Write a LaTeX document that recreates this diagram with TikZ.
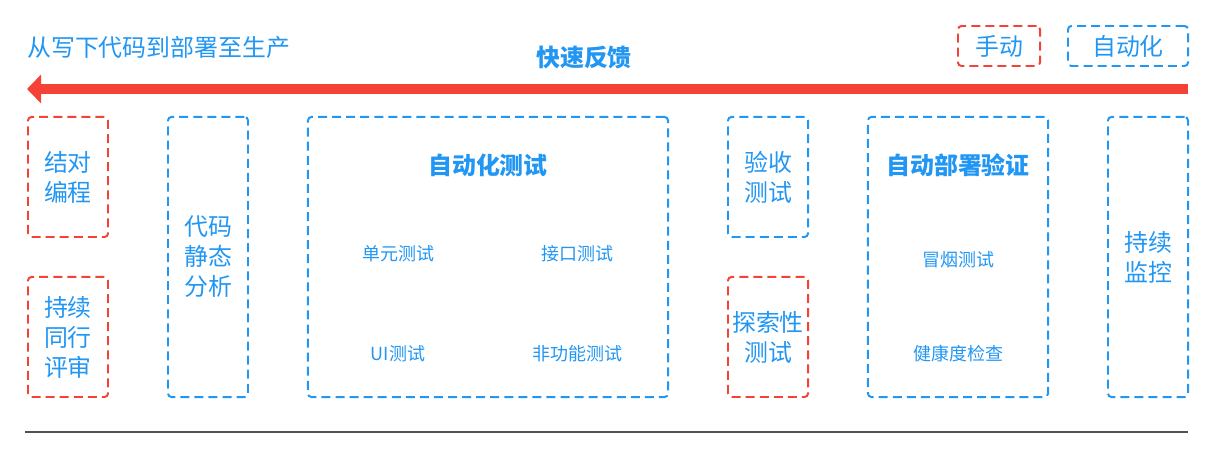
\documentclass[tikz,border=0pt]{standalone}
\usepackage{fontspec}
\setmainfont{Noto Sans CJK SC}
\usetikzlibrary{arrows.meta}
\definecolor{fbblue}{HTML}{2196F3}
\definecolor{fbred}{HTML}{F44336}
\definecolor{fbline}{HTML}{505050}

\begin{document}
\begin{tikzpicture}[x=0.025cm, y=-0.025cm,
    box/.style={line width=1.4pt, dash pattern=on 6.4pt off 3.6pt, rounded corners=2.5pt,
      text=fbblue, align=center, inner sep=0pt, font=\fontsize{17pt}{21.3pt}\selectfont},
    manualbox/.style={box, draw=fbred},
    autobox/.style={box, draw=fbblue},
    item/.style={text=fbblue, inner sep=0pt, font=\fontsize{12.8pt}{15pt}\selectfont},
    heading/.style={text=fbblue, inner sep=0pt, font=\bfseries\fontsize{17pt}{20pt}\selectfont}]
    \useasboundingbox (0,0) rectangle (1213,457);

    % Titol i llegenda
    \node[anchor=west, text=fbblue, inner sep=0pt, font=\fontsize{17pt}{20pt}\selectfont] (title) at (27,47) {从写下代码到部署至生产};
    \node[heading] (feedback) at (584,58) {快速反馈};
    \node[manualbox, minimum width=2.05cm, minimum height=1cm] (legmanual) at (999,46) {手动};
    \node[autobox, minimum width=3cm, minimum height=1cm] (legauto) at (1128,46) {自动化};

    % Fletxa de retorn
    \coordinate (fbstart) at (1188,89);
    \coordinate (fbtip) at (27,89);
    \draw[fbred, line width=7pt, -{Triangle[length=10pt,width=20pt]}] (fbstart) -- (fbtip);

    % Caixes de les etapes
    \node[manualbox, minimum width=2cm, minimum height=3cm] (pair) at (68,177) {结对\\编程};
    \node[manualbox, minimum width=2cm, minimum height=3cm] (review) at (68,337) {持续\\同行\\评审};
    \node[autobox, minimum width=2cm, minimum height=7cm] (static) at (208,257) {代码\\静态\\分析};
    \node[autobox, minimum width=9cm, minimum height=7cm] (autotest) at (488,257) {};
    \node[autobox, minimum width=2cm, minimum height=3cm] (accept) at (768,177) {验收\\测试};
    \node[manualbox, minimum width=2cm, minimum height=3cm] (explore) at (768,337) {探索性\\测试};
    \node[autobox, minimum width=4.5cm, minimum height=7cm] (deploy) at (958,257) {};
    \node[autobox, minimum width=2cm, minimum height=7cm] (monitor) at (1148,257) {持续\\监控};

    % Contingut de les caixes grans
    \node[heading] (autotesthead) at (488,165) {自动化测试};
    \node[item] (unit) at (398,254) {单元测试};
    \node[item] (iface) at (577,254) {接口测试};
    \node[item] (uitest) at (398,354) {UI测试};
    \node[item] (nonfunc) at (577,354) {非功能测试};
    \node[heading] (deployhead) at (958,165) {自动部署验证};
    \node[item] (smoke) at (958,260) {冒烟测试};
    \node[item] (health) at (958,354) {健康度检查};

    % Linia de base
    \coordinate (baseL) at (25,432);
    \coordinate (baseR) at (1188,432);
    \draw[fbline, line width=1.5pt] (baseL) -- (baseR);
\end{tikzpicture}
\end{document}
